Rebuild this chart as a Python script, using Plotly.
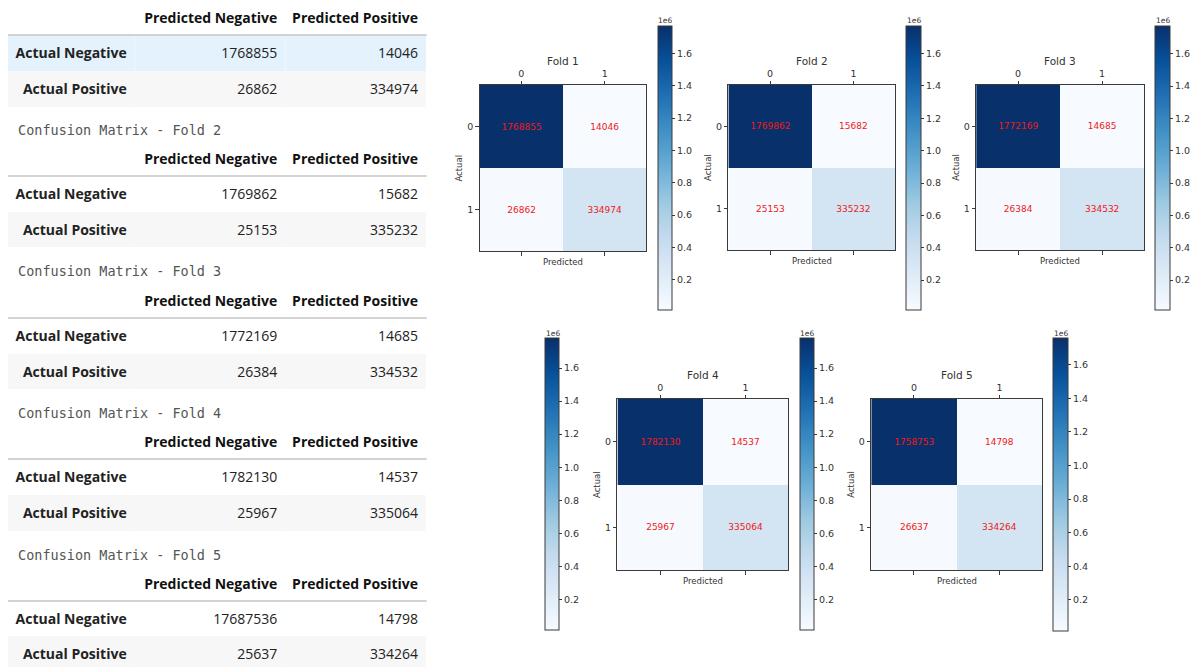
import plotly.graph_objects as go
import plotly.express as px

W, H = 1190, 667

# ---- data -------------------------------------------------------------
folds = ["Fold 1", "Fold 2", "Fold 3", "Fold 4", "Fold 5"]

# confusion-matrix counts used for the heatmaps
heat_true_neg = [1768855, 1769862, 1772169, 1782130, 1758753]
heat_false_pos = [14046, 15682, 14685, 14537, 14798]
heat_false_neg = [26862, 25153, 26384, 25967, 26637]
heat_true_pos = [334974, 335232, 334532, 335064, 334264]

# counts as printed in the tables
table_true_neg = [1768855, 1769862, 1772169, 1782130, 17687536]
table_false_pos = [14046, 15682, 14685, 14537, 14798]
table_false_neg = [26862, 25153, 26384, 25967, 25637]
table_true_pos = [334974, 335232, 334532, 335064, 334264]

row_labels = ["Actual Negative", "Actual Positive"]
col_labels = ["Predicted Negative", "Predicted Positive"]
class_ticks = ["0", "1"]
cbar_tickvals = [0.2e6, 0.4e6, 0.6e6, 0.8e6, 1.0e6, 1.2e6, 1.4e6, 1.6e6]
cbar_ticktext = ["0.2", "0.4", "0.6", "0.8", "1.0", "1.2", "1.4", "1.6"]

# ---- layout constants (pixels) -----------------------------------------
def fx(p):
    return p / W


def fy(p):
    return 1 - p / H


def nowrap(s):
    # keep multi-word labels on one line inside table cells
    return s.replace(" ", "\u00a0")


def num_cell(v):
    # styled like the bold labels so both sit on the same baseline
    return "<span>%d</span>" % v


# heatmap boxes: (left, right, top, bottom)
heat_boxes = [(480, 647, 85, 251), (729, 896, 85, 250), (977, 1145, 85, 250),
              (618, 789, 399, 570), (872, 1043, 399, 570)]
# colorbars: (left, right, top, bottom)
cbar_boxes = [(658, 672, 26, 310), (906, 921, 26, 310), (1155, 1170, 26, 310),
              (800, 814, 338, 630), (1053, 1068, 338, 631)]
extra_cbar_box = (545, 559, 338, 630)

# table vertical layout: header top, header height, row height
table_tops = [0, 141, 283, 424, 566]
header_h = 35
row_hs = [36, 36, 36, 36, 33]
table_left, table_right = 8, 427
caption_y = [None, 130, 271, 413, 555]

blues = px.colors.sequential.Blues
blues_scale = [[i / (len(blues) - 1), c] for i, c in enumerate(blues)]

AX_COLOR = "#3a3a3a"
MPL_FONT = "DejaVu Sans"
TABLE_FONT = "Open Sans"


def colorbar_spec(box):
    l, r, t, b = box
    return dict(
        x=fx(l), xanchor="left", y=fy(t), yanchor="top",
        len=b - t, lenmode="pixels", thickness=r - l, thicknessmode="pixels",
        xpad=0, ypad=0, outlinewidth=1, outlinecolor=AX_COLOR,
        ticks="outside", ticklen=3, tickwidth=1, tickcolor=AX_COLOR,
        tickvals=cbar_tickvals, ticktext=cbar_ticktext,
        tickfont=dict(family=MPL_FONT, size=9.5, color="#333"),
    )


fig = go.Figure()
annotations = []
shapes = []
layout_axes = {}

# ---- heatmaps -----------------------------------------------------------
for i, name in enumerate(folds):
    z = [[heat_true_neg[i], heat_false_pos[i]],
         [heat_false_neg[i], heat_true_pos[i]]]
    suffix = "" if i == 0 else str(i + 1)
    fig.add_trace(go.Heatmap(
        z=z, x=[0, 1], y=[0, 1],
        colorscale=blues_scale,
        texttemplate="%{z:d}",
        textfont=dict(color="#f01818", size=9, family=MPL_FONT),
        colorbar=colorbar_spec(cbar_boxes[i]),
        xaxis="x" + suffix, yaxis="y" + suffix,
        hoverinfo="skip",
    ))
    l, r, t, b = heat_boxes[i]
    layout_axes["xaxis" + suffix] = dict(
        domain=[fx(l), fx(r)], anchor="y" + suffix, side="top",
        range=[-0.5, 1.5], tickvals=[0, 1], ticktext=class_ticks,
        ticks="outside", ticklen=3.5, tickwidth=1, tickcolor=AX_COLOR,
        showline=True, linecolor=AX_COLOR, linewidth=1, mirror="ticks",
        showgrid=False, zeroline=False,
        tickfont=dict(family=MPL_FONT, size=9.5, color="#333"),
    )
    layout_axes["yaxis" + suffix] = dict(
        domain=[fy(b), fy(t)], anchor="x" + suffix,
        range=[1.5, -0.5], tickvals=[0, 1], ticktext=class_ticks,
        ticks="outside", ticklen=3.5, tickwidth=1, tickcolor=AX_COLOR,
        showline=True, linecolor=AX_COLOR, linewidth=1, mirror=True,
        showgrid=False, zeroline=False,
        tickfont=dict(family=MPL_FONT, size=9.5, color="#333"),
    )
    cx = (l + r) / 2
    annotations.append(dict(text=name, x=fx(cx), y=fy(t - 24), xref="paper", yref="paper",
                            showarrow=False, xanchor="center", yanchor="middle",
                            font=dict(family=MPL_FONT, size=10.5, color="#333")))
    annotations.append(dict(text="Predicted", x=fx(cx), y=fy(b + 11), xref="paper", yref="paper",
                            showarrow=False, xanchor="center", yanchor="middle",
                            font=dict(family=MPL_FONT, size=8.5, color="#333")))
    annotations.append(dict(text="Actual", x=fx(l - 21), y=fy((t + b) / 2), xref="paper", yref="paper",
                            showarrow=False, xanchor="center", yanchor="middle", textangle=-90,
                            font=dict(family=MPL_FONT, size=8.5, color="#333")))

# stray colorbar on the second row, scaled like Fold 4
fold4 = [heat_true_neg[3], heat_false_pos[3], heat_false_neg[3], heat_true_pos[3]]
fig.add_trace(go.Scatter(
    x=[None], y=[None], mode="markers", xaxis="x4", yaxis="y4",
    marker=dict(color=fold4, colorscale=blues_scale, cmin=min(fold4), cmax=max(fold4),
                showscale=True, colorbar=colorbar_spec(extra_cbar_box)),
    hoverinfo="skip", showlegend=False,
))

# "1e6" offset labels above each colorbar
for l, r, t, b in cbar_boxes + [extra_cbar_box]:
    annotations.append(dict(text="1e6", x=fx((l + r) / 2 + 1), y=fy(t - 5), xref="paper", yref="paper",
                            showarrow=False, xanchor="center", yanchor="middle",
                            font=dict(family=MPL_FONT, size=7.5, color="#333")))

# ---- tables -------------------------------------------------------------
for i in range(5):
    top = table_tops[i]
    rh = row_hs[i]
    bottom = min(top + header_h + 2 * rh, H)
    first_fill = "#e3f2fc" if i == 0 else "white"
    fills = [first_fill, "#f7f7f7"]
    fig.add_trace(go.Table(
        domain=dict(x=[fx(table_left), fx(table_right)], y=[fy(bottom), fy(top)]),
        columnwidth=[127, 151, 141],
        header=dict(
            values=[""] + ["<b>%s</b>" % nowrap(c) for c in col_labels],
            align="right", height=header_h,
            fill=dict(color="white"), line=dict(width=0, color="white"),
            font=dict(family=TABLE_FONT, size=14, color="#111"),
        ),
        cells=dict(
            values=[["<b>%s</b>" % nowrap(r) for r in row_labels],
                    [num_cell(table_true_neg[i]), num_cell(table_false_neg[i])],
                    [num_cell(table_false_pos[i]), num_cell(table_true_pos[i])]],
            align="right", height=rh,
            fill=dict(color=[fills, fills, fills]),
            line=dict(width=0, color=[fills, fills, fills]),
            font=dict(family=TABLE_FONT, size=14, color="#222"),
        ),
    ))
    # header underline
    shapes.append(dict(type="line", xref="paper", yref="paper",
                       x0=fx(table_left), x1=fx(table_right),
                       y0=fy(top + header_h), y1=fy(top + header_h),
                       line=dict(color="#c4c4c4", width=1.5)))
    if caption_y[i] is not None:
        annotations.append(dict(text="Confusion Matrix - %s" % folds[i], x=fx(16), y=fy(caption_y[i]),
                                xref="paper", yref="paper", showarrow=False,
                                xanchor="left", yanchor="middle",
                                font=dict(family="DejaVu Sans Mono", size=13.5, color="#555")))

fig.update_layout(
    width=W, height=H, margin=dict(l=0, r=0, t=0, b=0),
    paper_bgcolor="white", plot_bgcolor="white",
    showlegend=False, annotations=annotations, shapes=shapes,
    **layout_axes,
)

fig.write_html("out.html")
